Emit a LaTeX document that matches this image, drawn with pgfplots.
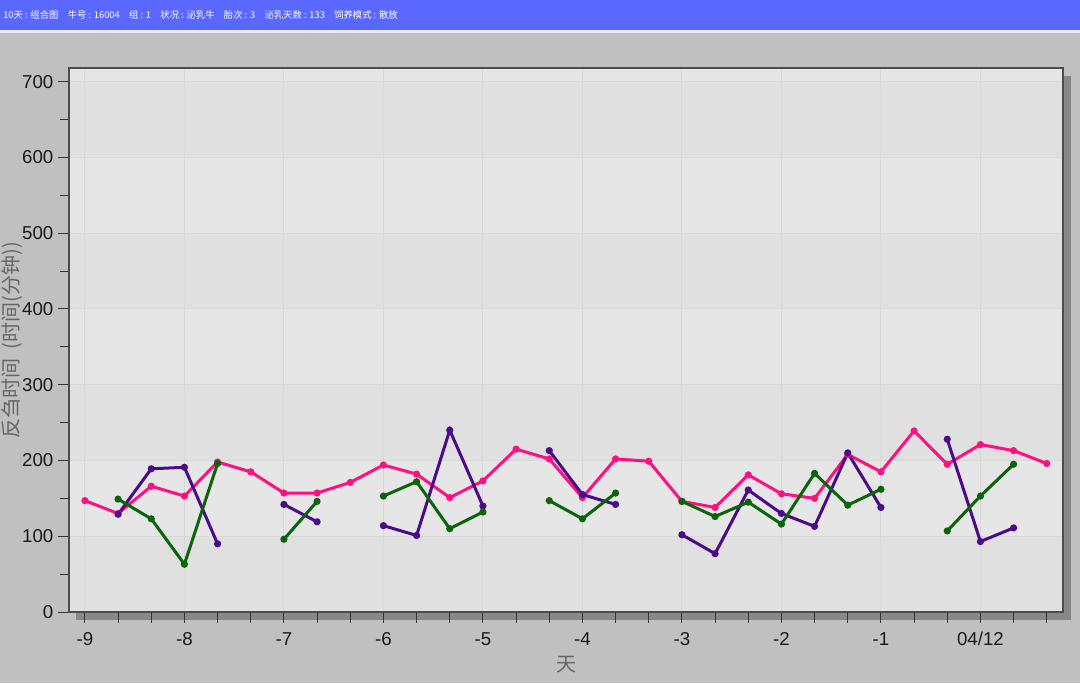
\documentclass[border=0pt]{standalone}
\usepackage{fontspec}
\setmainfont{Liberation Sans}
\newfontfamily\cjk{Noto Sans CJK SC}
\usepackage{pgfplots}
\pgfplotsset{compat=1.18}
\definecolor{bgray}{HTML}{C0C0C0}
\definecolor{hdrblue}{HTML}{5A68FF}
\definecolor{shadowgray}{HTML}{888888}
\definecolor{bandA}{HTML}{E0E0E0}
\definecolor{bandB}{HTML}{E6E6E6}
\definecolor{gridc}{HTML}{D8D8D8}
\definecolor{cpink}{HTML}{FF1080}
\definecolor{cpurple}{HTML}{4B0A8C}
\definecolor{cgreen}{HTML}{0A640A}
\begin{document}
\begin{tikzpicture}
\begin{scope}[x=0.75pt,y=0.75pt]
\useasboundingbox (0,0) rectangle (1080,683);
\fill[bgray] (0,0) rectangle (1080,683);
\fill[hdrblue] (0,653) rectangle (1080,683);
\fill[white!85!hdrblue] (0,650) rectangle (1080,653);
\node[anchor=west, text=white, inner sep=0pt, font=\cjk\fontsize{7}{8}\selectfont]
  at (3,668) {10天 : 组合图\quad 牛号 : 16004\quad 组 : 1\quad 状况 : 泌乳牛\quad 胎次 : 3\quad 泌乳天数 : 133\quad 饲养模式 : 散放};
\fill[shadowgray] (76,63) rectangle (1071,607);
% plot area bands (100-unit stripes)
\fill[bandA] (69,71) rectangle (1063,615);
\fill[bandB] (69,146.8) rectangle (1063,222.5);
\fill[bandB] (69,298.3) rectangle (1063,374.1);
\fill[bandB] (69,449.8) rectangle (1063,525.6);
\fill[bandB] (69,601.4) rectangle (1063,615);
\end{scope}
\begin{axis}[
  at={(51.75pt,53.25pt)}, anchor=south west,
  width=745.5pt, height=408pt, scale only axis,
  xmin=-9.16, xmax=0.83, ymin=0, ymax=718,
  axis line style={draw=black!70, line width=1.1pt},
  tick pos=left, tick align=outside,
  major tick length=8.25pt, minor tick length=6.75pt,
  every tick/.style={black!80, line width=0.75pt},
  xtick={-9,-8,-7,-6,-5,-4,-3,-2,-1,0},
  xticklabels={-9,-8,-7,-6,-5,-4,-3,-2,-1,04/12},
  extra x ticks={-8.6667,-8.3333,-7.6667,-7.3333,-6.6667,-6.3333,-5.6667,-5.3333,-4.6667,-4.3333,-3.6667,-3.3333,-2.6667,-2.3333,-1.6667,-1.3333,-0.6667,-0.3333,0.3333,0.6667},
  extra x tick labels={},
  extra x tick style={grid=none},
  ytick={0,100,...,700},
  minor y tick num=1,
  grid=major,
  major grid style={gridc, line width=0.75pt},
  ticklabel style={font=\fontsize{14}{16}\selectfont, text=black!90},
  xticklabel style={yshift=-3.5pt},
  /pgf/number format/assume math mode=true,
  xlabel={\cjk 天},
  xlabel style={at={(axis description cs:0.5,-0.097)}, anchor=center, inner sep=0pt,
    font=\fontsize{15}{17}\selectfont, text=black!60},
  ylabel={\cjk 反刍时间\ \ (时间(分钟))},
  ylabel style={at={(axis description cs:-0.0573,0.5)}, anchor=center, inner sep=0pt,
    font=\fontsize{15}{17}\selectfont, text=black!60},
  unbounded coords=jump,
  every axis plot/.append style={line width=2.25pt, mark=*, mark size=1.5pt},
]
% pink
\addplot[cpink, mark options={fill=cpink}] coordinates {
 (-9,147) (-8.6667,130) (-8.3333,166) (-8,153) (-7.6667,198) (-7.3333,185)
 (-7,157) (-6.6667,157) (-6.3333,171) (-6,194) (-5.6667,182) (-5.3333,151)
 (-5,173) (-4.6667,215) (-4.3333,202) (-4,151) (-3.6667,202) (-3.3333,199)
 (-3,146) (-2.6667,138) (-2.3333,181) (-2,156) (-1.6667,150) (-1.3333,208)
 (-1,185) (-0.6667,239) (-0.3333,195) (0,221) (0.3333,213) (0.6667,196)
};
% purple
\addplot[cpurple, mark options={fill=cpurple}] coordinates {
 (-8.6667,129) (-8.3333,189) (-8,191) (-7.6667,90) (-7.5,nan)
 (-7,142) (-6.6667,119) (-6.5,nan)
 (-6,114) (-5.6667,101) (-5.3333,240) (-5,140) (-4.8,nan)
 (-4.3333,213) (-4,155) (-3.6667,142) (-3.5,nan)
 (-3,102) (-2.6667,77) (-2.3333,161) (-2,130) (-1.6667,113) (-1.3333,210) (-1,138) (-0.8,nan)
 (-0.3333,228) (0,93) (0.3333,111)
};
% green
\addplot[cgreen, mark options={fill=cgreen}] coordinates {
 (-8.6667,149) (-8.3333,123) (-8,63) (-7.6667,196) (-7.5,nan)
 (-7,96) (-6.6667,146) (-6.5,nan)
 (-6,153) (-5.6667,172) (-5.3333,110) (-5,132) (-4.8,nan)
 (-4.3333,147) (-4,123) (-3.6667,157) (-3.5,nan)
 (-3,146) (-2.6667,126) (-2.3333,145) (-2,116) (-1.6667,183) (-1.3333,141) (-1,162) (-0.8,nan)
 (-0.3333,107) (0,153) (0.3333,195)
};
\end{axis}
\end{tikzpicture}
\end{document}
